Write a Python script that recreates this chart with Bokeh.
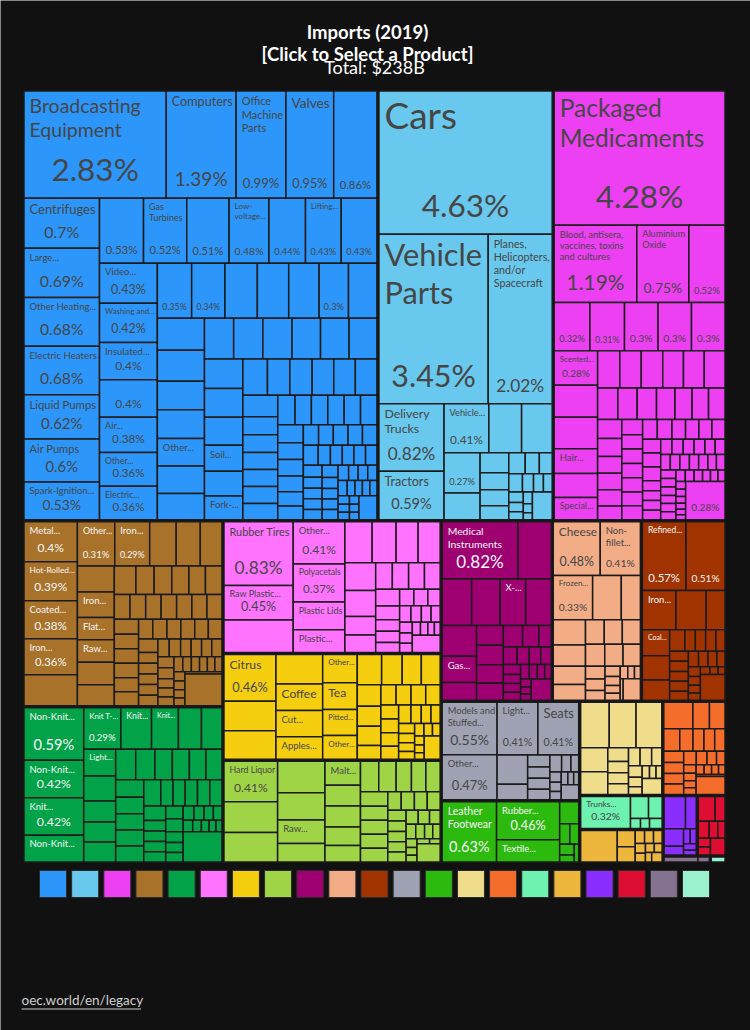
import math
from bokeh.plotting import figure
from bokeh.models import ColumnDataSource, Range1d
from bokeh.core.properties import value, field
from bokeh.embed import file_html
from bokeh.resources import INLINE

# ---------------- data (share of total imports, %) ----------------
title_lines = ["Imports (2019)", "[Click to Select a Product]"]
total_label = "Total: $238B"
footer_label = "oec.world/en/legacy"

section_names = ["Machines", "Transportation", "Chemical Products", "Metals", "Textiles",
                 "Plastics and Rubbers", "Vegetable Products", "Foodstuffs", "Instruments",
                 "Animal Products", "Mineral Products", "Miscellaneous", "Footwear and Headwear",
                 "Stone And Glass", "Paper Goods", "Animal Hides", "Wood Products",
                 "Precious Metals", "Weapons", "Arts and Antiques", "Animal and Vegetable Bi-Products"]
section_colors = ["#2c96fa", "#69c8ed", "#ed40f2", "#a8722b", "#02a348", "#ff73ff", "#f4ce0f",
                  "#a0d447", "#9e0071", "#f2ac86", "#a13300", "#9ea2b3", "#2dba0f", "#efdd8b",
                  "#f46d2a", "#6df2b0", "#edb73e", "#892eff", "#dd0e31", "#847290", "#9cf2cf"]

machines_values = [2.83, 1.39, 0.99, 0.95, 0.86,
                   0.7, 0.69, 0.68, 0.68, 0.62, 0.6, 0.53,
                   0.53, 0.52, 0.51, 0.48, 0.44, 0.43, 0.43,
                   0.43, 0.42, 0.4, 0.4, 0.38, 0.36, 0.36,
                   0.35, 0.34, 0.33, 0.32, 0.31, 0.3, 0.29,
                   0.28, 0.27, 0.25, 0.25, 0.24, 0.24, 0.23,
                   0.22, 0.22, 0.22, 0.215, 0.215, 0.21, 0.21,
                   0.205, 0.2, 0.185, 0.175, 0.17, 0.165,
                   0.15, 0.15, 0.145, 0.145, 0.145, 0.14,
                   0.115, 0.115, 0.11, 0.11, 0.11, 0.105,
                   0.095, 0.09, 0.09, 0.09, 0.09, 0.09,
                   0.085, 0.08, 0.078, 0.075, 0.068, 0.065,
                   0.058, 0.056, 0.056, 0.055, 0.055, 0.055,
                   0.045, 0.044, 0.043, 0.043, 0.042, 0.042,
                   0.038, 0.037, 0.037, 0.036, 0.036,
                   0.032, 0.031, 0.031, 0.03, 0.03,
                   0.027, 0.027, 0.026, 0.026,
                   0.022, 0.021, 0.021, 0.02,
                   0.018, 0.017, 0.016, 0.015, 0.014, 0.013,
                   0.08]
machines_names = ["Broadcasting\nEquipment", "Computers", "Office\nMachine\nParts", "Valves", "",
                  "Centrifuges", "Large...", "Other Heating...", "Electric Heaters", "Liquid Pumps",
                  "Air Pumps", "Spark-Ignition...",
                  "", "Gas\nTurbines", "", "Low-\nvoltage...", "", "Lifting...", "",
                  "Video...", "Washing and...", "Insulated...", "", "Air...", "Other...", "Electric...",
                  "", "", None, None, None, "", None,
                  None, None, None, None, "Other...", None, None,
                  None, None, None, None, None, None, None,
                  None, None, "Soil...", None, "Fork-..."]
machines_pct = [1, 1, 1, 1, 1, 1, 1, 1, 1, 1, 1, 1, 1, 1, 1, 1, 1, 1, 1,
                1, 1, 1, 1, 1, 1, 1, 1, 1, 0, 0, 0, 1, 0,
                0, 0, 0, 0, 0, 0, 0, 0, 0, 0, 0, 0, 0, 0, 0, 0, 0, 0, 0]

transport_values = [4.63, 3.45, 2.02, 0.82, 0.59, 0.41, 0.3, 0.28, 0.27, 0.18,
                    0.107, 0.09, 0.086, 0.075, 0.064, 0.055, 0.05,
                    0.047, 0.038, 0.034, 0.03, 0.028, 0.025, 0.022, 0.02, 0.015, 0.012,
                    0.102]
transport_names = ["Cars", "Vehicle\nParts", "Planes,\nHelicopters,\nand/or\nSpacecraft",
                   "Delivery\nTrucks", "Tractors", "Vehicle...", None, None, ""]
transport_pct = [1, 1, 1, 1, 1, 1, 0, 0, 1]

chemicals_values = [4.28, 1.19, 0.75, 0.52, 0.32, 0.31, 0.3, 0.3, 0.3,
                    0.28, 0.26, 0.255, 0.2, 0.195, 0.18,
                    0.155, 0.15, 0.15, 0.145, 0.145, 0.145,
                    0.118, 0.113, 0.113, 0.108, 0.1, 0.096, 0.096,
                    0.086, 0.081, 0.076, 0.075, 0.073, 0.062, 0.059,
                    0.056, 0.056, 0.055, 0.055, 0.054, 0.054, 0.054, 0.054,
                    0.05, 0.049, 0.048, 0.048, 0.047, 0.047, 0.046,
                    0.034, 0.033, 0.033, 0.032, 0.032, 0.032, 0.031, 0.031,
                    0.029, 0.028, 0.028, 0.028, 0.028, 0.027, 0.027,
                    0.025, 0.025, 0.024, 0.024, 0.024, 0.023, 0.023, 0.023,
                    0.02, 0.019, 0.018, 0.017, 0.016, 0.015, 0.014, 0.013, 0.012, 0.011, 0.01, 0.009,
                    0.28]
chemicals_names = ["Packaged\nMedicaments", "Blood, antisera,\nvaccines, toxins\nand cultures",
                   "Aluminium\nOxide", "", "", "", "", "", "",
                   "Scented...", None, None, "Hair...", None, "Special..."]
chemicals_pct = [1, 1, 1, 1, 1, 1, 1, 1, 1, 1, 0, 0, 0, 0, 0]

metals_values = [0.4, 0.39, 0.38, 0.36, 0.31,
                 0.31, 0.29, 0.22, 0.2, 0.18,
                 0.18, 0.175, 0.155, 0.155, 0.155, 0.145,
                 0.115, 0.097, 0.094, 0.091, 0.088, 0.088,
                 0.073, 0.073, 0.072, 0.072, 0.071, 0.07, 0.07,
                 0.068, 0.066, 0.066, 0.066, 0.064, 0.063,
                 0.052, 0.052, 0.051, 0.051, 0.05, 0.05, 0.049,
                 0.039, 0.039, 0.038, 0.038, 0.038, 0.038, 0.038,
                 0.035, 0.035, 0.034, 0.034, 0.033, 0.033,
                 0.028, 0.027, 0.026, 0.025, 0.024, 0.023, 0.022, 0.021, 0.02, 0.019,
                 0.018, 0.017, 0.016, 0.015,
                 0.22]
metals_names = ["Metal...", "Hot-Rolled...", "Coated...", "Iron...", None,
                "Other...", "Iron...", None, None, None,
                None, "Iron...", "Flat...", "Raw..."]
metals_pct = [1, 1, 1, 1, 0, 1, 1, 0, 0, 0, 0, 0, 0, 0]

textiles_values = [0.59, 0.42, 0.42, 0.3,
                   0.29, 0.24, 0.21, 0.18, 0.16,
                   0.16, 0.15, 0.127, 0.12, 0.12, 0.115,
                   0.11, 0.1, 0.098, 0.095, 0.092, 0.092,
                   0.087, 0.086, 0.085, 0.084, 0.083,
                   0.06, 0.06, 0.06, 0.06, 0.06, 0.06,
                   0.043, 0.043, 0.042, 0.042, 0.042, 0.042,
                   0.035, 0.033, 0.031, 0.029, 0.027, 0.025, 0.023, 0.021, 0.019, 0.017, 0.015, 0.013,
                   0.22]
textiles_names = ["Non-Knit...", "Non-Knit...", "Knit...", "Non-Knit...",
                  "Knit T-...", "Knit...", "Knit...", None, None, "Light..."]
textiles_pct = [1, 1, 1, 0, 1, 0, 0, 0, 0, 0]

plastics_values = [0.83, 0.45, 0.42,
                   0.41, 0.37, 0.27, 0.22,
                   0.21, 0.185, 0.17, 0.17,
                   0.16, 0.15, 0.108, 0.1,
                   0.083, 0.081, 0.079, 0.078,
                   0.075, 0.062, 0.052, 0.05,
                   0.045, 0.044, 0.043,
                   0.038, 0.035, 0.032, 0.03, 0.028, 0.026, 0.024, 0.022, 0.02, 0.018, 0.016, 0.014,
                   0.09]
plastics_names = ["Rubber Tires", "Raw Plastic...", None, "Other...", "Polyacetals",
                  "Plastic Lids", "Plastic..."]
plastics_pct = [1, 1, 0, 1, 1, 0, 0]

vegetable_values = [0.46, 0.29, 0.28,
                    0.26, 0.235, 0.23, 0.2,
                    0.185, 0.175, 0.17, 0.155,
                    0.14, 0.118, 0.11, 0.108,
                    0.095, 0.09, 0.085, 0.062,
                    0.058, 0.057, 0.056, 0.055,
                    0.047, 0.046, 0.045, 0.044, 0.043,
                    0.036, 0.034, 0.032, 0.03, 0.028, 0.026, 0.024, 0.022, 0.02, 0.018, 0.016, 0.014, 0.012,
                    0.07]
vegetable_names = ["Citrus", None, None, None, "Coffee", "Cut...", "Apples...",
                   "Other...", "Tea", "Pitted...", "Other..."]
vegetable_pct = [1, 0, 0, 0, 0, 0, 0, 0, 0, 0, 0]

foodstuffs_values = [0.41, 0.31, 0.3,
                     0.28, 0.245, 0.21, 0.165,
                     0.16, 0.14, 0.14, 0.125, 0.11,
                     0.105, 0.1, 0.088, 0.083, 0.082,
                     0.074, 0.073, 0.072, 0.072, 0.071,
                     0.047, 0.046, 0.045, 0.045,
                     0.037, 0.036, 0.036, 0.035, 0.035,
                     0.032, 0.03, 0.028, 0.026, 0.024, 0.022, 0.02, 0.018, 0.016, 0.014, 0.012, 0.01,
                     0.08]
foodstuffs_names = ["Hard Liquor", None, None, None, None, "Raw...", None, "Malt..."]
foodstuffs_pct = [1, 0, 0, 0, 0, 0, 0, 0]

instruments_values = [0.82, 0.36,
                      0.26, 0.25, 0.225, 0.225,
                      0.2, 0.17, 0.115,
                      0.1, 0.098, 0.094, 0.085,
                      0.078, 0.066, 0.05,
                      0.046, 0.04, 0.038, 0.035,
                      0.032, 0.03, 0.028, 0.026, 0.024, 0.022, 0.02, 0.018, 0.016, 0.014, 0.012,
                      0.08]
instruments_names = ["Medical\nInstruments", None, None, None, "X-...", None, None, "Gas..."]
instruments_pct = [1, 0, 0, 0, 0, 0, 0, 0]

animal_values = [0.48, 0.41, 0.33, 0.24, 0.16,
                 0.155, 0.13, 0.112, 0.095,
                 0.087, 0.084, 0.084,
                 0.08, 0.076, 0.072,
                 0.048, 0.042, 0.036, 0.03, 0.026, 0.022, 0.02, 0.018, 0.016, 0.014, 0.012,
                 0.07]
animal_names = ["Cheese", "Non-\nfillet...", "Frozen..."]
animal_pct = [1, 1, 1]

mineral_values = [0.57, 0.51, 0.25, 0.225, 0.14,
                  0.135, 0.125, 0.105,
                  0.062, 0.043, 0.042, 0.042,
                  0.037, 0.036, 0.036, 0.035, 0.035,
                  0.032, 0.03, 0.028, 0.026, 0.024, 0.022, 0.02, 0.018, 0.016, 0.014, 0.012, 0.01,
                  0.12]
mineral_names = ["Refined...", "", "Iron...", None, None, "Coal..."]
mineral_pct = [1, 1, 0, 0, 0, 0]

misc_values = [0.55, 0.47, 0.41, 0.41, 0.17, 0.09, 0.05, 0.048, 0.046,
               0.045, 0.038, 0.03, 0.025, 0.022, 0.02, 0.018, 0.016, 0.014, 0.012, 0.05]
misc_names = ["Models and\nStuffed...", "Other...", "Light...", "Seats"]
misc_pct = [1, 1, 1, 1]

footwear_values = [0.63, 0.46, 0.27, 0.08, 0.04, 0.035, 0.03, 0.02, 0.015]
footwear_names = ["Leather\nFootwear", "Rubber...", "Textile..."]
footwear_pct = [1, 1, 0]

stone_values = [0.25, 0.235, 0.225, 0.125, 0.118, 0.055, 0.045, 0.044, 0.042, 0.04, 0.04,
                0.035, 0.03, 0.025, 0.02, 0.018, 0.016, 0.014, 0.06]
paper_values = [0.15, 0.085, 0.08, 0.07, 0.058, 0.048, 0.047, 0.045, 0.043, 0.042, 0.041, 0.04,
                0.033, 0.028, 0.025, 0.022, 0.02, 0.018, 0.017, 0.016, 0.015, 0.014, 0.013,
                0.012, 0.011, 0.1]
hides_values = [0.32, 0.08, 0.06, 0.02, 0.018, 0.025]
hides_names = ["Trunks..."]
hides_pct = [1]
wood_values = [0.23, 0.058, 0.055, 0.024, 0.023, 0.022, 0.02, 0.018, 0.016, 0.014, 0.012, 0.02]
precious_values = [0.14, 0.07, 0.068, 0.035, 0.02, 0.018, 0.017, 0.012]
weapons_values = [0.085, 0.05, 0.038, 0.03, 0.025, 0.022, 0.02, 0.05]
arts_values = [0.045, 0.015]
biproducts_values = [0.02]

# whether the trailing "other" tile of each section shows its share
aggregate_pct_shown = [0, 0, 1, 0, 0, 0, 0, 0, 0, 0, 0, 0, 0, 0, 0, 0, 0, 0, 0, 0, 0]

section_values = [machines_values, transport_values, chemicals_values, metals_values,
                  textiles_values, plastics_values, vegetable_values, foodstuffs_values,
                  instruments_values, animal_values, mineral_values, misc_values,
                  footwear_values, stone_values, paper_values, hides_values, wood_values,
                  precious_values, weapons_values, arts_values, biproducts_values]
section_labels = [(machines_names, machines_pct), (transport_names, transport_pct),
                  (chemicals_names, chemicals_pct), (metals_names, metals_pct),
                  (textiles_names, textiles_pct), (plastics_names, plastics_pct),
                  (vegetable_names, vegetable_pct), (foodstuffs_names, foodstuffs_pct),
                  (instruments_names, instruments_pct), (animal_names, animal_pct),
                  (mineral_names, mineral_pct), (misc_names, misc_pct),
                  (footwear_names, footwear_pct), ([], []), ([], []),
                  (hides_names, hides_pct), ([], []), ([], []), ([], []), ([], []), ([], [])]

# ---------------- layout helpers ----------------
BG = "#111111"
PHI = (1 + math.sqrt(5)) / 2
BASE_SHIFT = 0.43   # renderer places alphabetic baseline ~0.43em below the anchor


def squarify(vals, x0, y0, x1, y1, ratio=PHI):
    rects = [None] * len(vals)
    n = len(vals)
    i0 = 0
    remaining = float(sum(vals))
    while i0 < n:
        dx, dy = x1 - x0, y1 - y0
        i1 = i0
        s = vals[i1]
        i1 += 1
        vmin = vmax = s
        alpha = max(dy / dx, dx / dy) / (remaining * ratio)
        beta = s * s * alpha
        best = max(vmax / beta, beta / vmin)
        while i1 < n:
            nv = vals[i1]
            s2 = s + nv
            mn, mx = min(vmin, nv), max(vmax, nv)
            beta = s2 * s2 * alpha
            r = max(mx / beta, beta / mn)
            if r > best:
                break
            s, vmin, vmax, best = s2, mn, mx, r
            i1 += 1
        if dx < dy:
            h = dy * s / remaining if remaining > 0 else dy
            xx = x0
            for i in range(i0, i1):
                w = dx * vals[i] / s
                rects[i] = (xx, y0, xx + w, y0 + h)
                xx += w
            y0 += h
        else:
            w = dx * s / remaining if remaining > 0 else dx
            yy = y0
            for i in range(i0, i1):
                h = dy * vals[i] / s
                rects[i] = (x0, yy, x0 + w, yy + h)
                yy += h
            x0 += w
        remaining -= s
        i0 = i1
    return rects


CW = {'a': .50, 'b': .56, 'c': .46, 'd': .56, 'e': .53, 'f': .32, 'g': .50, 'h': .56, 'i': .24,
      'j': .24, 'k': .50, 'l': .24, 'm': .85, 'n': .56, 'o': .56, 'p': .56, 'q': .56, 'r': .37,
      's': .42, 't': .36, 'u': .56, 'v': .50, 'w': .77, 'x': .49, 'y': .50, 'z': .45, ' ': .19,
      '.': .23, ',': .23, '-': .33, '/': .38, '%': .80, '(': .30, ')': .30, '$': .58, ':': .25,
      '[': .30, ']': .30, 'I': .27, 'M': .84, 'W': .95, 'T': .55, 'L': .50}


def text_em(s):
    t = 0.0
    for c in s:
        if c in CW:
            t += CW[c]
        elif c.isdigit():
            t += 0.58
        elif c.isupper():
            t += 0.64
        else:
            t += 0.5
    return t


def fmt_pct(v):
    return f"{v:.2f}".rstrip("0").rstrip(".") + "%"


def text_color(hexcol):
    r, g, b = int(hexcol[1:3], 16), int(hexcol[3:5], 16), int(hexcol[5:7], 16)
    return "#464646" if 0.299 * r + 0.587 * g + 0.114 * b > 127 else "#f7f7f7"


def anchor(baseline, fs):
    return baseline - BASE_SHIFT * fs


# ---------------- figure (page pixel coordinates) ----------------
W, H = 750, 1030
p = figure(width=W, height=H, x_range=Range1d(0, W), y_range=Range1d(H, 0),
           output_backend="svg", toolbar_location=None, min_border=0,
           x_axis_type=None, y_axis_type=None)
p.outline_line_color = None
p.background_fill_color = BG
p.border_fill_color = BG
p.xgrid.visible = False
p.ygrid.visible = False

AREA = (22.5, 89.5, 725.5, 862.5)
totals = [sum(v) for v in section_values]
sec_rects = squarify(totals, *AREA)

tiles = dict(l=[], r=[], t=[], b=[], c=[])
names = dict(x=[], y=[], text=[], fs=[], col=[])
pcts = dict(x=[], y=[], text=[], fs=[], col=[])

for si, (vals, rect) in enumerate(zip(section_values, sec_rects)):
    x0, y0, x1, y1 = rect
    inner = squarify(vals, x0 + 1, y0 + 1, x1 - 1, y1 - 1)
    col = section_colors[si]
    tcol = text_color(col)
    nlist, plist = section_labels[si]
    for ti, (v, tr) in enumerate(zip(vals, inner)):
        a0, b0, a1, b1 = tr
        tiles["l"].append(a0)
        tiles["r"].append(a1)
        tiles["t"].append(b0)
        tiles["b"].append(b1)
        tiles["c"].append(col)
        w, h = a1 - a0, b1 - b0
        name = nlist[ti] if ti < len(nlist) else None
        show = plist[ti] if ti < len(plist) else 0
        if ti == len(vals) - 1 and len(vals) > 1 and aggregate_pct_shown[si]:
            name, show = "", 1
        if name is None:
            continue
        if name:
            lines = name.split("\n")
            nl = len(lines)
            wem = max(text_em(l) for l in lines)
            hf = (0.26 if show else 0.45) * (1.4 / nl if nl > 1 else 1.0)
            cap = 9.5 if name.endswith("...") else 37
            fs = min(cap, (w - 9) / wem, h * hf)
            if fs >= 6:
                for k, line in enumerate(lines):
                    names["x"].append(a0 + 5.5)
                    names["y"].append(anchor(b0 + 3.5 + 0.98 * fs + k * 1.22 * fs, fs))
                    names["text"].append(line)
                    names["fs"].append(f"{fs:.1f}px")
                    names["col"].append(tcol)
        if show:
            ptxt = fmt_pct(v)
            fs = min(31.5, 0.26 * math.sqrt(w * h), 0.8 * (w - 4) / text_em(ptxt))
            pcts["x"].append((a0 + a1) / 2)
            pcts["y"].append(anchor(b1 - (0.35 * fs + 4.5), fs))
            pcts["text"].append(ptxt)
            pcts["fs"].append(f"{fs:.1f}px")
            pcts["col"].append(tcol)

p.quad(left="l", right="r", top="t", bottom="b", fill_color="c", line_color="#1b1b1b",
       line_width=1.5, source=ColumnDataSource(tiles))
p.text(x="x", y="y", text="text", text_font_size=field("fs"), text_color=field("col"),
       text_font=value("Lato"), text_align="left", text_baseline="alphabetic",
       source=ColumnDataSource(names))
p.text(x="x", y="y", text="text", text_font_size=field("fs"), text_color=field("col"),
       text_font=value("Lato"), text_align="center", text_baseline="alphabetic",
       source=ColumnDataSource(pcts))

# title
p.text(x=[367, 367], y=[anchor(39, 18.5), anchor(61, 18.5)], text=title_lines,
       text_font=value("Lato"), text_font_style="bold", text_font_size="18.5px",
       text_color="#ffffff", text_align="center", text_baseline="alphabetic")
p.text(x=[374], y=[anchor(74.5, 18)], text=[total_label], text_font=value("Lato"),
       text_font_size="18px", text_color="#ffffff", text_align="center",
       text_baseline="alphabetic")

# color legend squares
nsec = len(section_colors)
sq, gap = 27, 5.15
start = 374 - (nsec * sq + (nsec - 1) * gap) / 2
lx0 = [start + i * (sq + gap) for i in range(nsec)]
p.quad(left=lx0, right=[x + sq for x in lx0], top=[870] * nsec, bottom=[897] * nsec,
       fill_color=section_colors, line_color="#2a2a2a", line_width=1)

# footer link
p.text(x=[21], y=[anchor(1005.5, 13.5)], text=[footer_label], text_font=value("Lato"),
       text_font_size="13.5px", text_color="#cfcfcf", text_align="left",
       text_baseline="alphabetic")
fw = text_em(footer_label) * 13.5
p.segment(x0=[21], y0=[1008.5], x1=[21 + fw], y1=[1008.5], line_color="#cfcfcf", line_width=1)

html = file_html(p, INLINE, title="Imports (2019)")
html = html.replace("<body>", '<body style="margin:0;background-color:#111111;">', 1)
open("out.html", "w").write(html)
